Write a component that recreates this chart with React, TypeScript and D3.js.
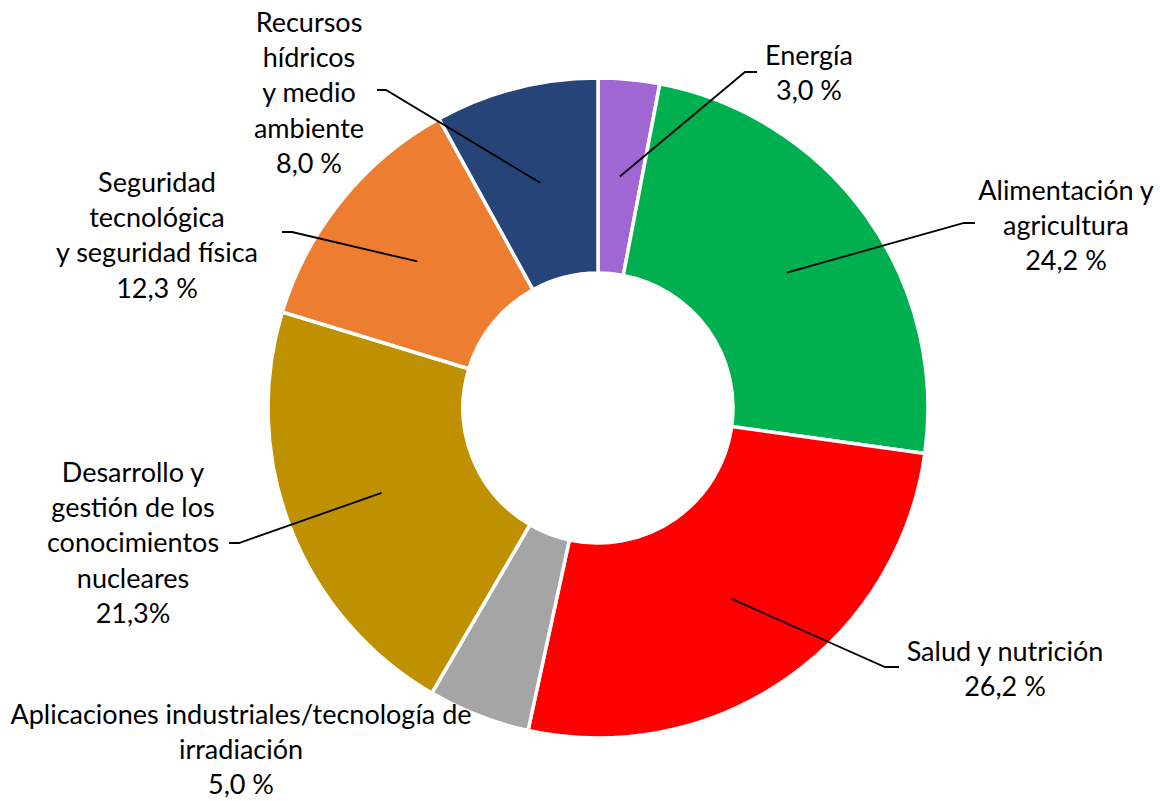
import * as d3 from 'd3'
import React, { useEffect, useRef } from 'react'

// slices, clockwise from 12 o'clock
const categories = [
    'Energía',
    'Alimentación y agricultura',
    'Salud y nutrición',
    'Aplicaciones industriales/tecnología de irradiación',
    'Desarrollo y gestión de los conocimientos nucleares',
    'Seguridad tecnológica y seguridad física',
    'Recursos hídricos y medio ambiente',
]
const shares = [3.0, 24.2, 26.2, 5.0, 21.3, 12.3, 8.0]
const shareLabels = ['3,0 %', '24,2 %', '26,2 %', '5,0 %', '21,3%', '12,3 %', '8,0 %']
const wrappedNames = [
    ['Energía'],
    ['Alimentación y', 'agricultura'],
    ['Salud y nutrición'],
    ['Aplicaciones industriales/tecnología de', 'irradiación'],
    ['Desarrollo y', 'gestión de los', 'conocimientos', 'nucleares'],
    ['Seguridad', 'tecnológica', 'y seguridad física'],
    ['Recursos', 'hídricos', 'y medio', 'ambiente'],
]
const colors = ['#A066D3', '#00B050', '#FF0000', '#A5A5A5', '#BF9000', '#ED7D31', '#264478']

// label placement relative to the centre (tx,ty = first line centre, ex,ey = leader elbow, hx = leader end)
const labelLayout = [
    { tx: 211, ty: -352, ex: 147, ey: -336, hx: 159 },
    { tx: 468, ty: -217, ex: 366, ey: -185, hx: 377 },
    { tx: 407, ty: 244, ex: 287, ey: 259, hx: 301 },
    { tx: -357, ty: 307, ex: null, ey: null, hx: null },
    { tx: -465, ty: 65, ex: -359, ey: 135, hx: -369 },
    { tx: -441, ty: -225, ex: -306, ey: -176, hx: -316 },
    { tx: -289, ty: -385, ex: -212, ey: -318, hx: -221 },
]

const App = (): JSX.Element => {
    const ref = useRef<SVGSVGElement>(null)
    const width = 1160
    const height = 801
    const cx = 598
    const cy = 408
    const outerR = 330
    const innerR = 135
    const fontSize = 27
    const lineGap = 35.3

    useEffect(() => {
        const svg = d3.select(ref.current)
        svg.selectAll('*').remove()

        const data = categories.map((name, i) => ({ name, value: shares[i], i }))
        const pie = d3
            .pie<any>()
            .sort(null)
            .value((d) => d.value)
            .startAngle(0)
            .endAngle(2 * Math.PI)
        const arc = d3.arc<any>().innerRadius(innerR).outerRadius(outerR)
        const leaderArc = d3.arc<any>().innerRadius(137).outerRadius(328)

        const g = svg.append('g').attr('transform', `translate(${cx},${cy})`)
        const arcs = pie(data)

        g.selectAll('path.slice')
            .data(arcs)
            .enter()
            .append('path')
            .attr('class', 'slice')
            .attr('d', arc)
            .attr('fill', (d) => colors[d.data.i])
            .attr('stroke', '#fff')
            .attr('stroke-width', 3.5)
            .attr('stroke-linejoin', 'miter')

        // leader lines
        arcs.forEach((a) => {
            const l = labelLayout[a.data.i]
            if (l.ex === null) return
            const [sx, sy] = leaderArc.centroid(a)
            g.append('polyline')
                .attr('points', `${sx},${sy} ${l.ex},${l.ey} ${l.hx},${l.ey}`)
                .attr('fill', 'none')
                .attr('stroke', '#000')
                .attr('stroke-width', 1.8)
        })

        // labels
        arcs.forEach((a) => {
            const l = labelLayout[a.data.i]
            const lines = [...wrappedNames[a.data.i], shareLabels[a.data.i]]
            const text = g
                .append('text')
                .attr('text-anchor', 'middle')
                .attr('font-family', 'Lato, "Open Sans", sans-serif')
                .attr('font-size', fontSize)
                .attr('fill', '#000')
            lines.forEach((line, k) => {
                text.append('tspan')
                    .attr('x', l.tx)
                    .attr('y', l.ty + k * lineGap)
                    .attr('dy', '0.32em')
                    .text(line)
            })
        })
    }, [])

    return (
        <svg
            ref={ref}
            width={width}
            height={height}
            style={{ position: 'absolute', left: 0, top: 0, background: '#fff' }}
        />
    )
}

export default App
